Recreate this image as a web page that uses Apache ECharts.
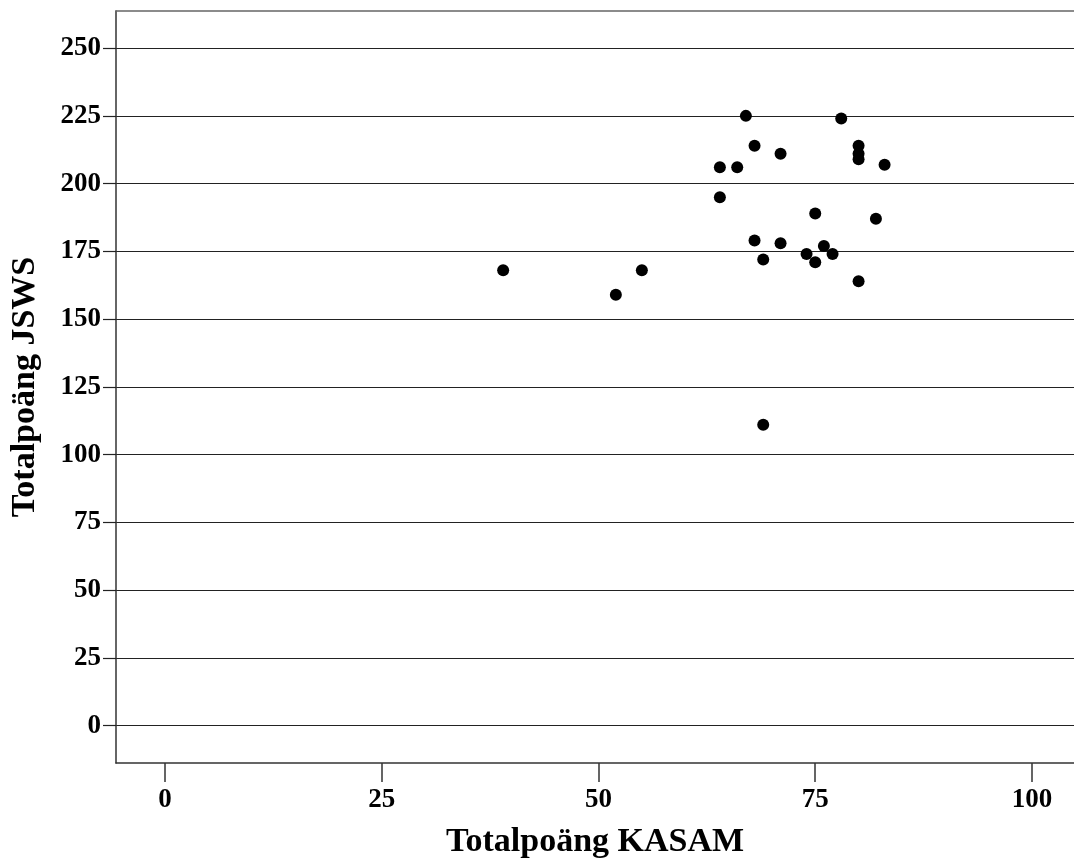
<!DOCTYPE html>
<html>
<head>
<meta charset="utf-8">
<script src="https://cdn.jsdelivr.net/npm/echarts@6/dist/echarts.min.js"></script>
<style>
  html, body { margin: 0; padding: 0; background: #fff; }
  #chart { width: 1074px; height: 867px; }
</style>
</head>
<body>
<div id="chart"></div>
<script>
// Totalpoäng KASAM (x) mot Totalpoäng JSWS (y)
var kasam = [39, 52, 55, 64, 64, 66, 67, 68, 68, 69, 69, 71, 71, 74, 75, 75, 76, 77, 78, 80, 80, 80, 80, 82, 83];
var jsws  = [168, 159, 168, 206, 195, 206, 225, 214, 179, 172, 111, 211, 178, 174, 189, 171, 177, 174, 224, 214, 211, 209, 164, 187, 207];
var xTicks = [0, 25, 50, 75, 100];
var yTicks = [0, 25, 50, 75, 100, 125, 150, 175, 200, 225, 250];

var points = [];
for (var i = 0; i < kasam.length; i++) {
    points.push([kasam[i], jsws[i]]);
}

var labelFont = {
    color: '#000',
    fontFamily: 'Liberation Serif',
    fontWeight: 'bold',
    fontSize: 27
};
var nameFont = {
    color: '#000',
    fontFamily: 'Liberation Serif',
    fontWeight: 'bold',
    fontSize: 34
};

var myChart = echarts.init(document.getElementById('chart'));
myChart.setOption({
    animation: false,
    backgroundColor: '#fff',
    grid: {
        left: 116,
        right: 0,
        top: 11,
        bottom: 104
    },
    xAxis: [
        {
            type: 'value',
            min: -5.66,
            max: 104.85,
            name: 'Totalpoäng KASAM',
            nameLocation: 'middle',
            nameGap: 62,
            nameTextStyle: nameFont,
            axisLine: { show: true, onZero: false, lineStyle: { color: '#333', width: 1.5 } },
            axisTick: { show: true, length: 19, customValues: xTicks, lineStyle: { color: '#333', width: 1.5 } },
            axisLabel: Object.assign({ margin: 24, customValues: xTicks }, labelFont),
            splitLine: { show: false }
        },
        {
            // top frame line only
            type: 'value',
            position: 'top',
            min: -5.66,
            max: 104.85,
            axisLine: { show: true, onZero: false, lineStyle: { color: '#666', width: 1.5 } },
            axisTick: { show: false },
            axisLabel: { show: false },
            splitLine: { show: false }
        }
    ],
    yAxis: {
        type: 'value',
        min: -13.8,
        max: 263.7,
        name: 'Totalpoäng JSWS',
        nameLocation: 'middle',
        nameGap: 74,
        nameTextStyle: nameFont,
        axisLine: { show: true, onZero: false, lineStyle: { color: '#333', width: 1.5 } },
        axisTick: { show: true, length: 13, customValues: yTicks, lineStyle: { color: '#222', width: 1.2 } },
        axisLabel: Object.assign({ margin: 15, customValues: yTicks }, labelFont),
        splitLine: { show: true, lineStyle: { color: '#222', width: 1.2 } }
    },
    series: [{
        type: 'scatter',
        xAxisIndex: 0,
        data: points,
        symbolSize: 12,
        itemStyle: { color: '#000', opacity: 1 }
    }]
});
</script>
</body>
</html>
